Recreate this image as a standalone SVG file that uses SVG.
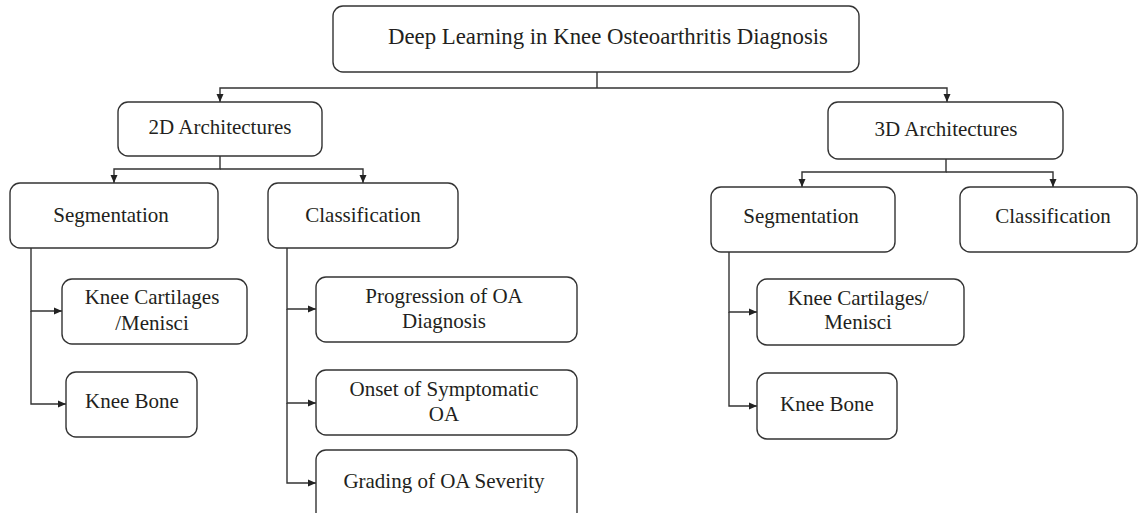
<svg xmlns="http://www.w3.org/2000/svg" width="1138" height="513" viewBox="0 0 1138 513">
<defs>
<style>
.box{fill:#fff;stroke:#333;stroke-width:1.4}
.lbl{font-family:"Liberation Serif","Times New Roman",serif;font-size:21px;fill:#231f20;text-anchor:middle}
.big{font-size:22.8px}
.con{fill:none;stroke:#333;stroke-width:1.4}
</style>
<marker id="ah" markerUnits="userSpaceOnUse" markerWidth="8" markerHeight="8" refX="8" refY="4" orient="auto">
<path d="M0,0.5 L8,4 L0,7.5 z" fill="#222"/>
</marker>
</defs>
<rect width="1138" height="513" fill="#fff"/>
<g id="connectors">
<path class="con" d="M597,72 V88"/>
<path class="con" d="M597,88 H220 V102" marker-end="url(#ah)"/>
<path class="con" d="M597,88 H947 V102" marker-end="url(#ah)"/>
<path class="con" d="M220,156 V169 H114 V183" marker-end="url(#ah)"/>
<path class="con" d="M220,169 H363 V183" marker-end="url(#ah)"/>
<path class="con" d="M946,159 V172 H802 V187" marker-end="url(#ah)"/>
<path class="con" d="M946,172 H1053 V187" marker-end="url(#ah)"/>
<path class="con" d="M31,248 V311 H62" marker-end="url(#ah)"/>
<path class="con" d="M31,311 V404 H66" marker-end="url(#ah)"/>
<path class="con" d="M287,248 V309 H316" marker-end="url(#ah)"/>
<path class="con" d="M287,309 V403 H316" marker-end="url(#ah)"/>
<path class="con" d="M287,403 V483 H316" marker-end="url(#ah)"/>
<path class="con" d="M729,252 V312 H757" marker-end="url(#ah)"/>
<path class="con" d="M729,312 V406 H757" marker-end="url(#ah)"/>
</g>
<g id="root"><rect class="box" x="333" y="6" width="526" height="66" rx="10"/><text class="lbl big" x="608" y="44">Deep Learning in Knee Osteoarthritis Diagnosis</text></g>
<g id="arch2d"><rect class="box" x="118" y="102" width="204" height="54" rx="10"/><text class="lbl" x="220" y="134">2D Architectures</text></g>
<g id="arch3d"><rect class="box" x="828" y="102" width="235" height="57" rx="10"/><text class="lbl" x="946" y="136">3D Architectures</text></g>
<g id="seg2d"><rect class="box" x="10" y="183" width="208" height="65" rx="10"/><text class="lbl" x="111" y="222">Segmentation</text></g>
<g id="cls2d"><rect class="box" x="268" y="183" width="190" height="65" rx="10"/><text class="lbl" x="363" y="222">Classification</text></g>
<g id="seg3d"><rect class="box" x="711" y="187" width="184" height="65" rx="10"/><text class="lbl" x="801" y="223">Segmentation</text></g>
<g id="cls3d"><rect class="box" x="960" y="187" width="177" height="65" rx="10"/><text class="lbl" x="1053" y="223">Classification</text></g>
<g id="kc2d"><rect class="box" x="62" y="279" width="185" height="65" rx="10"/><text class="lbl" x="152" y="304">Knee Cartilages</text><text class="lbl" x="152" y="330">/Menisci</text></g>
<g id="kb2d"><rect class="box" x="66" y="372" width="131" height="65" rx="10"/><text class="lbl" x="132" y="408">Knee Bone</text></g>
<g id="prog"><rect class="box" x="316" y="277" width="261" height="65" rx="10"/><text class="lbl" x="444" y="303">Progression of OA</text><text class="lbl" x="444" y="328">Diagnosis</text></g>
<g id="onset"><rect class="box" x="316" y="370" width="261" height="65" rx="10"/><text class="lbl" x="444" y="396">Onset of Symptomatic</text><text class="lbl" x="444" y="421">OA</text></g>
<g id="grading"><rect class="box" x="316" y="450" width="261" height="72" rx="10"/><text class="lbl" x="444" y="488">Grading of OA Severity</text></g>
<g id="kc3d"><rect class="box" x="757" y="279" width="207" height="66" rx="10"/><text class="lbl" x="858" y="305">Knee Cartilages/</text><text class="lbl" x="858" y="329">Menisci</text></g>
<g id="kb3d"><rect class="box" x="757" y="373" width="140" height="66" rx="10"/><text class="lbl" x="827" y="411">Knee Bone</text></g>
</svg>
